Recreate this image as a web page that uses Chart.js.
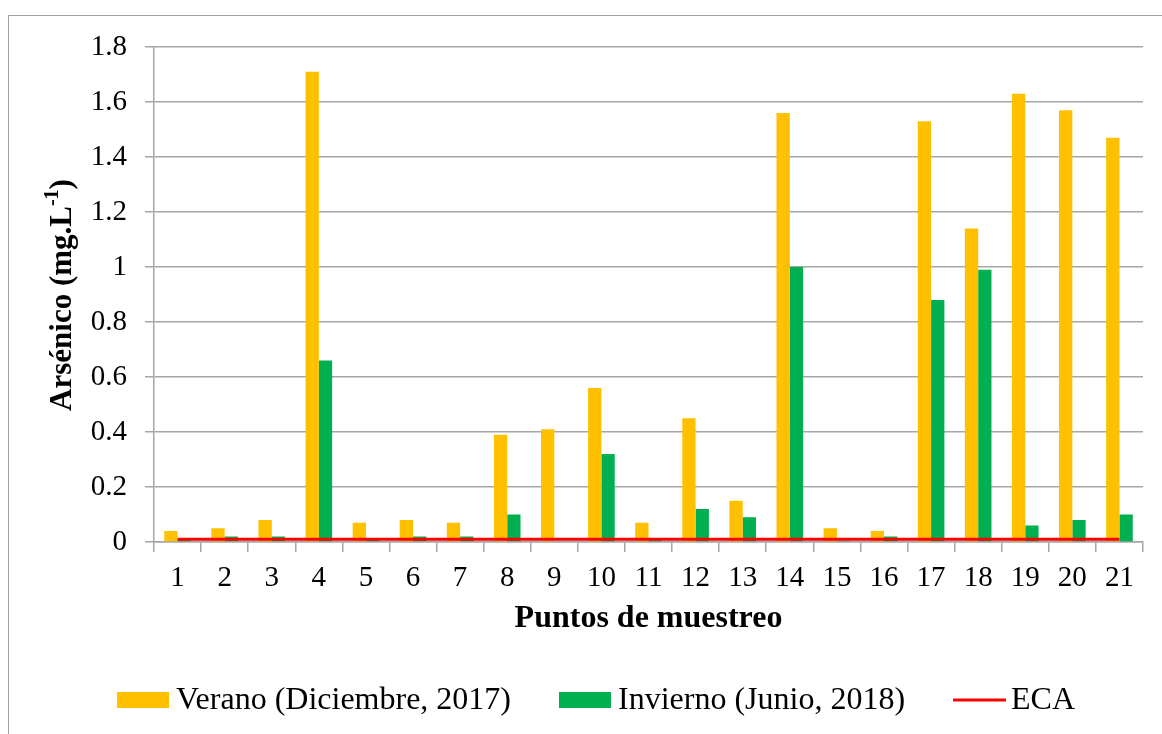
<!DOCTYPE html>
<html>
<head>
<meta charset="utf-8">
<script src="https://cdn.jsdelivr.net/npm/chart.js@4.4.1/dist/chart.umd.min.js"></script>
<style>
  html, body { margin: 0; padding: 0; background: #fff; }
  #wrap { position: relative; width: 1162px; height: 734px; }
  #frame {
    position: absolute; left: 8px; top: 15px; width: 1170px; height: 740px;
    border-left: 1px solid #a0a0a0; border-top: 1px solid #a0a0a0;
    pointer-events: none;
  }
</style>
</head>
<body>
<div id="wrap">
  <canvas id="chart"></canvas>
  <div id="frame"></div>
</div>
<script>
  const categories = ['1', '2', '3', '4', '5', '6', '7', '8', '9', '10', '11', '12', '13', '14', '15', '16', '17', '18', '19', '20', '21'];
  const veranoValues = [0.04, 0.05, 0.08, 1.71, 0.07, 0.08, 0.07, 0.39, 0.41, 0.56, 0.07, 0.45, 0.15, 1.56, 0.05, 0.04, 1.53, 1.14, 1.63, 1.57, 1.47];
  const inviernoValues = [0.01, 0.02, 0.02, 0.66, 0.01, 0.02, 0.02, 0.10, 0, 0.32, 0.007, 0.12, 0.09, 1.00, 0.005, 0.02, 0.88, 0.99, 0.06, 0.08, 0.10];
  const ecaValues = [0.01, 0.01, 0.01, 0.01, 0.01, 0.01, 0.01, 0.01, 0.01, 0.01, 0.01, 0.01, 0.01, 0.01, 0.01, 0.01, 0.01, 0.01, 0.01, 0.01, 0.01];
  const seriesLabels = ['Verano (Diciembre, 2017)', 'Invierno (Junio, 2018)', 'ECA'];

  const SERIF = "'Liberation Serif', 'Times New Roman', serif";
  const GRID = '#a6a6a6';

  // y axis title with superscript, and the bottom legend
  const decorations = {
    id: 'decorations',
    afterDraw(chart) {
      const { ctx } = chart;
      ctx.save();
      ctx.fillStyle = '#000';
      ctx.textBaseline = 'middle';

      // y title
      ctx.translate(63, 295);
      ctx.rotate(-Math.PI / 2);
      const mainFont = `bold 31px ${SERIF}`;
      const supFont = `bold 20px ${SERIF}`;
      ctx.font = mainFont;
      const p1 = 'Arsénico (mg.L';
      const p3 = ')';
      const w1 = ctx.measureText(p1).width;
      const w3 = ctx.measureText(p3).width;
      ctx.font = supFont;
      const w2 = ctx.measureText('-1').width;
      let x = -(w1 + w2 + w3) / 2;
      ctx.textAlign = 'left';
      ctx.font = mainFont;
      ctx.fillText(p1, x, 0);
      x += w1;
      ctx.font = supFont;
      ctx.fillText('-1', x, -10);
      x += w2;
      ctx.font = mainFont;
      ctx.fillText(p3, x, 0);
      ctx.restore();

      // legend
      ctx.save();
      ctx.font = `32px ${SERIF}`;
      ctx.textBaseline = 'middle';
      ctx.textAlign = 'left';
      const cy = 700;
      let lx = 117;
      chart.data.datasets.forEach((ds) => {
        if (ds.type === 'line') {
          ctx.strokeStyle = ds.borderColor;
          ctx.lineWidth = 3;
          ctx.beginPath();
          ctx.moveTo(lx, cy);
          ctx.lineTo(lx + 53, cy);
          ctx.stroke();
          lx += 58;
        } else {
          ctx.fillStyle = ds.backgroundColor;
          ctx.fillRect(lx, cy - 8, 52, 16);
          lx += 59;
        }
        ctx.fillStyle = '#000';
        ctx.fillText(ds.label, lx, cy + 1);
        lx += ctx.measureText(ds.label).width + 48;
      });
      ctx.restore();
    }
  };

  new Chart(document.getElementById('chart'), {
    type: 'bar',
    data: {
      labels: categories,
      datasets: [
        {
          label: seriesLabels[0],
          data: veranoValues,
          backgroundColor: '#ffc000',
          categoryPercentage: 0.565,
          barPercentage: 1,
          order: 2
        },
        {
          label: seriesLabels[1],
          data: inviernoValues,
          backgroundColor: '#00b050',
          categoryPercentage: 0.565,
          barPercentage: 1,
          order: 2
        },
        {
          type: 'line',
          label: seriesLabels[2],
          data: ecaValues,
          borderColor: '#ff0000',
          borderWidth: 3,
          pointRadius: 0,
          fill: false,
          order: 0
        }
      ]
    },
    options: {
      responsive: true,
      maintainAspectRatio: false,
      animation: false,
      layout: {
        padding: { left: 0, right: 19, top: 47, bottom: 96 }
      },
      scales: {
        x: {
          afterFit: (scale) => { scale.height = 96; },
          grid: {
            drawOnChartArea: false,
            drawTicks: true,
            tickLength: 10,
            color: GRID,
            lineWidth: 1.5
          },
          border: { color: GRID, width: 1.5 },
          ticks: {
            color: '#000',
            font: { family: SERIF, size: 29 },
            padding: 9,
            maxRotation: 0,
            autoSkip: false
          },
          title: {
            display: true,
            text: 'Puntos de muestreo',
            color: '#000',
            font: { family: SERIF, size: 32, weight: 'bold' },
            padding: 0
          }
        },
        y: {
          min: 0,
          max: 1.8,
          afterFit: (scale) => { scale.width = 154; },
          grid: {
            color: GRID,
            lineWidth: 1.5,
            tickLength: 9
          },
          border: { color: GRID, width: 1.5 },
          ticks: {
            stepSize: 0.2,
            color: '#000',
            font: { family: SERIF, size: 29 },
            padding: 18,
            callback: (value) => String(Number(value.toFixed(1)))
          }
        }
      },
      plugins: {
        legend: { display: false },
        tooltip: { enabled: false }
      }
    },
    plugins: [decorations]
  });
</script>
</body>
</html>
